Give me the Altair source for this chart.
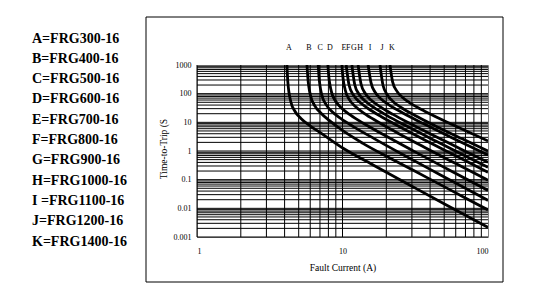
import altair as alt
import pandas as pd

# ---- data (current in A, time in s) ----
CURVES = ["A", "B", "C", "D", "E", "F", "G", "H", "I", "J", "K"]

A_I = [4.15, 4.21, 4.41, 4.72, 5.18, 5.95, 7.32, 10.1, 16.0, 28.5, 50.6, 100]
A_T = [1000, 257, 53.6, 23.9, 13.7, 7.74, 3.8, 1.25, 0.34, 0.068, 0.0138, 0.00215]
B_I = [5.70, 5.77, 6.04, 6.47, 7.09, 8.14, 10.0, 13.8, 21.9, 39.0, 69.3, 100]
B_T = [1000, 396, 82.8, 36.9, 21.3, 11.5, 5.2, 1.85, 0.52, 0.111, 0.0236, 0.0088]
C_I = [6.81, 6.88, 7.20, 7.72, 8.46, 9.71, 11.95, 16.5, 26.1, 46.5, 100]
C_T = [1000, 441, 92.3, 41.3, 23.9, 13.7, 6.95, 2.70, 0.741, 0.152, 0.0189]
D_I = [7.94, 8.00, 8.38, 8.98, 9.84, 11.3, 13.9, 19.2, 30.4, 54.1, 100]
D_T = [1000, 574, 120.5, 54.2, 31.4, 18.1, 9.31, 3.67, 1.03, 0.218, 0.0421]
E_I = [9.91, 9.97, 10.44, 11.18, 12.27, 14.08, 17.32, 23.9, 37.9, 60.1, 100]
E_T = [1000, 641, 135, 60.8, 35.5, 20.6, 10.7, 4.28, 1.23, 0.363, 0.0952]
F_I = [10.6, 11.1, 11.9, 13.05, 15.0, 18.4, 25.4, 40.3, 63.9, 100]
F_T = [1000, 196, 88.6, 51.9, 30.4, 15.9, 6.48, 1.91, 0.576, 0.181]
G_I = [11.6, 12.13, 13.0, 14.26, 16.4, 20.1, 27.8, 44.1, 69.8, 100]
G_T = [1000, 210, 95.3, 56.1, 33.0, 17.5, 7.24, 2.18, 0.673, 0.271]
H_I = [12.8, 13.4, 14.35, 15.7, 18.1, 22.2, 30.7, 48.6, 68.6, 100]
H_T = [1000, 221, 101, 59.6, 35.4, 18.9, 7.95, 2.45, 1.03, 0.405]
I_I = [15.0, 15.7, 16.8, 18.4, 21.1, 26.0, 35.9, 56.9, 100]
I_T = [1000, 242, 110, 65.6, 39.2, 21.2, 9.05, 2.86, 0.718]
J_I = [18.1, 19.0, 20.4, 22.3, 25.6, 31.5, 43.5, 65.9, 100]
J_T = [1000, 193, 88.3, 52.7, 31.7, 17.3, 7.52, 2.71, 0.993]
K_I = [21.2, 22.1, 23.7, 26.0, 29.8, 36.7, 50.7, 71.5, 100]
K_T = [1000, 259, 120, 72.1, 44.0, 24.5, 11.0, 4.86, 2.24]

LEGEND = ["A=FRG300-16", "B=FRG400-16", "C=FRG500-16", "D=FRG600-16",
          "E=FRG700-16", "F=FRG800-16", "G=FRG900-16", "H=FRG1000-16",
          "I =FRG1100-16", "J=FRG1200-16", "K=FRG1400-16"]

X_GRID = [1, 2, 3, 4, 5, 6, 7, 8, 9, 10, 20, 30, 40, 50, 60, 70, 80, 90]
Y_GRID = [0.001, 0.002, 0.003, 0.004, 0.005, 0.006, 0.007, 0.008, 0.009,
          0.01, 0.02, 0.03, 0.04, 0.05, 0.06, 0.07, 0.08, 0.09,
          0.1, 0.2, 0.3, 0.4, 0.5, 0.6, 0.7, 0.8, 0.9,
          1, 2, 3, 4, 5, 6, 7, 8, 9,
          10, 20, 30, 40, 50, 60, 70, 80, 90,
          100, 200, 300, 400, 500, 600, 700, 800, 900]
X_TICKS = [1, 10, 100]
Y_TICKS = [0.001, 0.01, 0.1, 1, 10, 100, 1000]

# ---- build tables ----
all_I = [A_I, B_I, C_I, D_I, E_I, F_I, G_I, H_I, I_I, J_I, K_I]
all_T = [A_T, B_T, C_T, D_T, E_T, F_T, G_T, H_T, I_T, J_T, K_T]
rows = []
for name, xs, ts in zip(CURVES, all_I, all_T):
    for k, (x, t) in enumerate(zip(xs, ts)):
        rows.append({"curve": name, "current": x, "time": t, "k": k})
df = pd.DataFrame(rows)
lab_df = pd.DataFrame({"letter": CURVES, "current": [xs[0] for xs in all_I]})

FONT = "Liberation Serif"
xscale = alt.Scale(type="log", domain=[1, 100], nice=False)
yscale = alt.Scale(type="log", domain=[0.001, 1000], nice=False)
XT = "Fault Current (A)"
YT = "Time-to-Trip (S"

xaxis = alt.Axis(values=X_TICKS, format="~g", grid=False, ticks=False, tickSize=0,
                 domain=False, labelFont=FONT, labelFontSize=8, labelPadding=10,
                 labelColor="black", titleFont=FONT, titleFontSize=9.5,
                 titleFontWeight="normal", titleColor="black", titleY=30,
                 titleBaseline="middle", zindex=2)
yaxis = alt.Axis(values=Y_TICKS, format="~g", grid=False, ticks=False, tickSize=0,
                 domain=False, labelFont=FONT, labelFontSize=8, labelPadding=6,
                 labelColor="black", titleFont=FONT, titleFontSize=9.5,
                 titleFontWeight="normal", titleColor="black", titleX=-34,
                 titleY=83.5, titleBaseline="middle", titleAngle=270, zindex=2)

box = alt.Chart(pd.DataFrame({"a": [0]})).mark_rect(
    fillOpacity=0, stroke="black", strokeWidth=1
).encode(x=alt.value(-51), x2=alt.value(306), y=alt.value(-48), y2=alt.value(217))

vgrid = alt.Chart(pd.DataFrame({"gx": X_GRID})).mark_rule(
    color="black", strokeWidth=1
).encode(x=alt.X("gx:Q", scale=xscale, axis=xaxis, title=XT))

hgrid = alt.Chart(pd.DataFrame({"gy": Y_GRID})).mark_rule(
    color="black", strokeWidth=1
).encode(y=alt.Y("gy:Q", scale=yscale, axis=yaxis, title=YT))

lines = alt.Chart(df).mark_line(
    color="black", strokeWidth=2.8, interpolate="monotone", clip=True
).encode(
    x=alt.X("current:Q", scale=xscale, axis=xaxis, title=XT),
    y=alt.Y("time:Q", scale=yscale, axis=yaxis, title=YT),
    detail="curve:N",
    order="k:Q",
)

letters = alt.Chart(lab_df).mark_text(
    font=FONT, fontSize=8, color="black", dx=2, baseline="middle", align="center"
).encode(
    x=alt.X("current:Q", scale=xscale, axis=xaxis, title=XT),
    y=alt.value(-17),
    text="letter:N",
)

legend = alt.Chart(pd.DataFrame({"a": [0]})).mark_text(
    font=FONT, fontSize=14, fontWeight="bold", color="black", align="left",
    baseline="middle", lineHeight=20.3
).encode(x=alt.value(-165), y=alt.value(-26.5), text=alt.value(LEGEND))

chart = alt.layer(box, vgrid, hgrid, lines, letters, legend).properties(
    width=291, height=172,
    autosize=alt.AutoSizeParams(type="none"),
    padding={"left": 197, "top": 65, "right": 62, "bottom": 63},
    background="white",
).configure_view(stroke="#808080", strokeWidth=1)

chart.save("out.html", embed_options={"renderer": "svg", "actions": False})
